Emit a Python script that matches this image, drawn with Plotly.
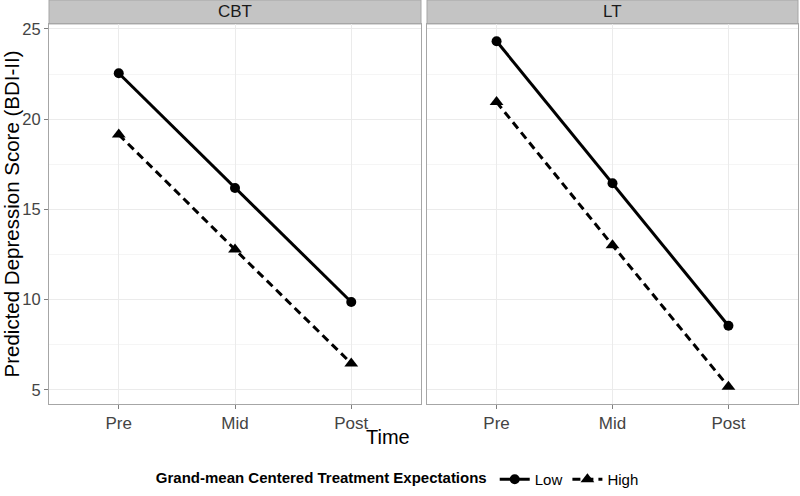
import plotly.graph_objects as go

time_labels = ["Pre", "Mid", "Post"]
panels = ["CBT", "LT"]
cbt_low = [22.55, 16.19, 9.87]
cbt_high = [19.15, 12.78, 6.47]
lt_low = [24.32, 16.45, 8.56]
lt_high = [20.95, 13.02, 5.18]
y_ticks = [5, 10, 15, 20, 25]

FONT = "Liberation Sans, Arial, sans-serif"
fig = go.Figure()

data = {"CBT": (cbt_low, cbt_high), "LT": (lt_low, lt_high)}
for i, p in enumerate(panels):
    xa = "x" if i == 0 else "x2"
    ya = "y" if i == 0 else "y2"
    low, high = data[p]
    fig.add_trace(go.Scatter(
        x=time_labels, y=low, mode="lines+markers", name="Low", legendgroup="Low",
        showlegend=(i == 0), xaxis=xa, yaxis=ya,
        line=dict(color="black", width=3, dash="solid"),
        marker=dict(symbol="circle", size=10, color="black")))
    fig.add_trace(go.Scatter(
        x=time_labels, y=high, mode="lines+markers", name="High", legendgroup="High",
        showlegend=(i == 0), xaxis=xa, yaxis=ya,
        line=dict(color="black", width=3, dash="8px,5px"),
        marker=dict(symbol="triangle-up", size=12, color="black")))

top = 381 / 405
yrange = [4.22, 25.28]
common_x = dict(type="category", range=[-0.6, 2.6], showgrid=True, gridcolor="#ebebeb",
                gridwidth=1, showline=True, linecolor="#a6a6a6", linewidth=1, mirror=True,
                ticks="outside", ticklen=4, tickcolor="#7f7f7f", zeroline=False, automargin=False,
                tickfont=dict(family=FONT, size=17, color="#444444"))
common_y = dict(range=yrange, tickvals=y_ticks, showgrid=True, gridcolor="#ebebeb",
                showline=True, linecolor="#a6a6a6", linewidth=1, mirror=True, zeroline=False,
                automargin=False,
                minor=dict(tickvals=[7.5, 12.5, 17.5, 22.5], showgrid=True, gridcolor="#f5f5f5"),
                tickfont=dict(family=FONT, size=16.5, color="#444444"))

d1 = [0, 372 / 749]
d2 = [378 / 749, 1]
fig.update_layout(
    width=800, height=496,
    margin=dict(l=49, r=2, t=0, b=91),
    paper_bgcolor="white", plot_bgcolor="white",
    font=dict(family=FONT, color="black"),
    xaxis=dict(domain=d1, anchor="y", **common_x),
    xaxis2=dict(domain=d2, anchor="y2", **common_x),
    yaxis=dict(domain=[0, top], anchor="x", ticks="outside", ticklen=4, tickcolor="#7f7f7f",
               title=dict(text="Predicted Depression Score (BDI-II)",
                          font=dict(family=FONT, size=20.5, color="black"), standoff=6),
               **common_y),
    yaxis2=dict(domain=[0, top], anchor="x2", showticklabels=False, ticks="", **common_y),
    showlegend=True,
    legend=dict(orientation="h", x=0.467, xanchor="center", y=-0.187, yanchor="middle",
                title=dict(text="<b>Grand-mean Centered Treatment Expectations</b>", side="left",
                           font=dict(family=FONT, size=15, color="black")),
                font=dict(family=FONT, size=15, color="black"), itemwidth=30,
                tracegroupgap=0),
)

for i, p in enumerate(panels):
    xref = "x domain" if i == 0 else "x2 domain"
    fig.add_shape(type="rect", xref=xref, yref="paper", x0=0, x1=1, y0=top, y1=1,
                  fillcolor="#c4c4c4", line=dict(color="#a6a6a6", width=1), layer="below")
    fig.add_annotation(text=p, xref=xref, yref="paper", x=0.5, y=(top + 1) / 2,
                       showarrow=False, font=dict(family=FONT, size=17, color="#1a1a1a"),
                       yanchor="middle")

fig.add_annotation(text="Time", xref="paper", yref="paper", x=(388 - 49) / 749, y=-(438 - 405) / 405,
                   showarrow=False, font=dict(family=FONT, size=20, color="black"), yanchor="middle")

fig.write_html("out.html", config={"displayModeBar": False},
               post_script="document.body.style.margin='0';")
